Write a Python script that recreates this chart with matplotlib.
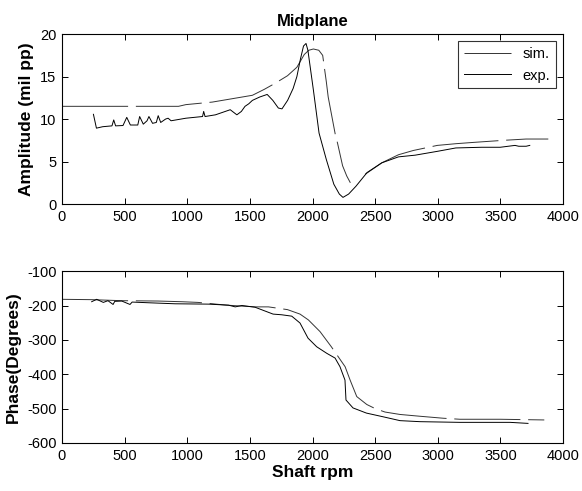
import matplotlib
matplotlib.use("Agg")
import matplotlib.pyplot as plt

plt.rcParams["font.family"] = ["Liberation Sans", "DejaVu Sans"]
plt.rcParams["axes.unicode_minus"] = False

# amplitude, simulated (dashed)
amp_sim_rpm = [0, 400, 930, 989, 1200, 1520, 1615, 1700, 1800, 1875, 1934, 1970,
               2007, 2050, 2081, 2110, 2125, 2184, 2199, 2240, 2273, 2302]
amp_sim = [11.5, 11.5, 11.5, 11.7, 12.0, 12.8, 13.5, 14.2, 15.1, 16.1, 17.6, 18.1,
           18.25, 18.1, 17.5, 14.4, 12.6, 8.0, 7.2, 4.5, 3.3, 2.5]
amp_sim_rpm2 = [2420, 2553, 2686, 2804, 2996, 3144, 3291, 3528, 3705, 3882]
amp_sim2 = [3.5, 4.85, 5.8, 6.3, 6.9, 7.1, 7.26, 7.5, 7.65, 7.65]

# amplitude, measured (solid)
amp_exp_rpm = [251, 275, 325, 399, 413, 428, 487, 517, 546, 605, 620, 649, 679, 694,
               723, 753, 768, 788, 827, 847, 871, 989, 1122, 1131, 1142, 1225, 1284,
               1343, 1396, 1432, 1461, 1491, 1520, 1579, 1638, 1683, 1727, 1756, 1801,
               1845, 1875, 1904, 1928, 1948, 1963, 2007, 2052, 2110, 2170, 2214, 2243,
               2288, 2347, 2435, 2553, 2686, 2819, 2996, 3144, 3350, 3498, 3616, 3646,
               3705, 3734]
amp_exp = [10.56, 8.93, 9.1, 9.2, 9.9, 9.2, 9.24, 10.2, 9.3, 9.3, 10.3, 9.4, 9.8, 10.3,
           9.5, 9.6, 10.4, 9.6, 10.0, 10.1, 9.8, 10.1, 10.3, 10.9, 10.3, 10.5, 10.8,
           11.1, 10.5, 10.9, 11.5, 11.8, 12.2, 12.6, 12.9, 12.2, 11.3, 11.2, 12.2,
           13.6, 15.0, 17.1, 18.6, 18.9, 18.1, 13.4, 8.35, 5.24, 2.33, 1.17, 0.78,
           1.17, 2.1, 3.7, 4.85, 5.55, 5.75, 6.2, 6.6, 6.68, 6.68, 6.9, 6.8, 6.8, 6.9]

# phase, simulated (dashed)
ph_sim_rpm = [0, 237, 477, 767, 956, 1086, 1315, 1541, 1648, 1800, 1900, 1967,
              2060, 2150, 2260, 2300, 2353, 2433, 2500, 2579, 2698, 2850, 3043,
              3177, 3500, 3850]
ph_sim = [-182, -183, -186, -187, -189, -191, -199, -204, -204, -212, -225, -242,
          -276, -320, -378, -417, -465, -488, -500, -510, -517, -522, -528,
          -531, -531, -533]

# phase, measured (solid)
ph_exp_rpm = [237, 277, 330, 367, 408, 421, 477, 543, 560, 689, 903, 1169, 1329, 1383,
              1436, 1541, 1685, 1754, 1834, 1900, 1964, 2033, 2113, 2180, 2219, 2259,
              2267, 2323, 2430, 2566, 2698, 2858, 3177, 3577, 3720]
ph_exp = [-189, -182, -191, -186, -197, -188, -187, -197, -190, -192, -195, -196,
          -199, -204, -200, -205, -225, -227, -231, -251, -295, -320, -339, -353,
          -378, -417, -475, -498, -513, -524, -535, -538, -540, -540, -543]

xticks = list(range(0, 4001, 500))

fig = plt.figure(figsize=(5.82, 4.91), dpi=100)
ax1 = fig.add_axes([0.1065, 0.5845, 0.861, 0.346])
ax2 = fig.add_axes([0.1065, 0.0978, 0.861, 0.350])

lw = 0.7
dash = (68, 8)  # scaled by linewidth -> long dashes, short gaps

l_sim, = ax1.plot(amp_sim_rpm, amp_sim, color="#333333", lw=lw, dashes=dash, label="sim.")
ax1.plot(amp_sim_rpm2, amp_sim2, color="#333333", lw=lw, dashes=dash)
l_exp, = ax1.plot(amp_exp_rpm, amp_exp, color="black", lw=lw, label="exp.")
ax1.set_xlim(0, 4000)
ax1.set_ylim(0, 20)
ax1.set_yticks([0, 5, 10, 15, 20])
ax1.set_ylabel("Amplitude (mil pp)", fontsize=12.5, fontweight="bold", labelpad=4)
ax1.set_title("Midplane", fontsize=12, fontweight="bold", pad=6)
leg = ax1.legend(loc="upper right", fontsize=10.5, frameon=True, fancybox=False,
                 edgecolor="black", handlelength=3.2, borderaxespad=0.5)
leg.get_frame().set_linewidth(0.8)

ax2.plot(ph_sim_rpm, ph_sim, color="#333333", lw=lw, dashes=dash)
ax2.plot(ph_exp_rpm, ph_exp, color="black", lw=lw)
ax2.set_xlim(0, 4000)
ax2.set_ylim(-600, -100)
ax2.set_yticks(list(range(-600, -99, 100)))
ax2.set_ylabel("Phase(Degrees)", fontsize=12.5, fontweight="bold", labelpad=4)
ax2.set_xlabel("Shaft rpm", fontsize=12.5, fontweight="bold", labelpad=2)

for ax in (ax1, ax2):
    ax.set_xticks(xticks)
    ax.tick_params(direction="in", top=True, right=True, length=4, width=0.7,
                   labelsize=10.5, pad=4)
    for s in ax.spines.values():
        s.set_linewidth(0.8)

fig.savefig("out.png", dpi=100)
